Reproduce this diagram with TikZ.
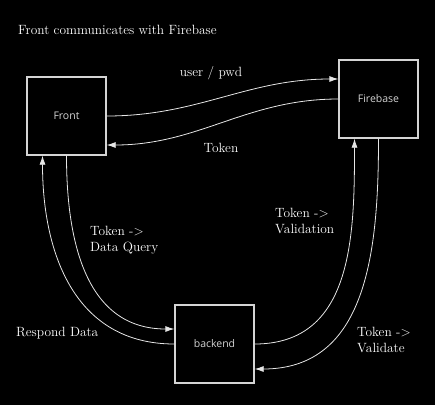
\documentclass[tikz,border=0pt]{standalone}
\usepackage{fontspec}
\newfontfamily\boxfont{Open Sans}
\usetikzlibrary{arrows.meta}
\definecolor{linegray}{HTML}{E6E6E6}
\definecolor{boxgray}{HTML}{D4D4D4}

\tikzset{
  block/.style={draw=boxgray, line width=1.3pt, fill=black, minimum width=79pt,
    minimum height=78pt, text=boxgray, font=\boxfont\fontsize{10.5}{12}\selectfont},
  flow/.style={draw=linegray, line width=0.8pt, -{Latex[length=9pt,width=6pt]}},
  note/.style={text=white, inner sep=0pt, font=\fontsize{13.4}{16}\selectfont, align=left},
}

\begin{document}
\begin{tikzpicture}[x=1pt,y=1pt]
    \fill[black] (0,0) rectangle (435,-405);

    \node[block] (front) at (66.5,-116) {Front};
    \node[block] (firebase) at (378.5,-99) {Firebase};
    \node[block] (backend) at (214.5,-344) {backend};

    % front <-> firebase
    \draw[flow] (front.east) to[out=0,in=180] ([yshift=20pt]firebase.west);
    \draw[flow] (firebase.west) to[out=180,in=0] ([yshift=-29pt]front.east);

    % front <-> backend
    \draw[flow] (front.south) to[out=-90,in=180,looseness=1.1] ([yshift=15pt]backend.west);
    \draw[flow] (backend.west) to[out=180,in=-90,looseness=1.1] ([xshift=-24pt]front.south);

    % backend <-> firebase
    \draw[flow] (backend.east) to[out=0,in=-90,looseness=1.1] ([xshift=-24pt]firebase.south);
    \draw[flow] (firebase.south) to[out=-90,in=0,looseness=1.1] ([yshift=-25pt]backend.east);

    \node[note, anchor=west] (title) at (18,-30) {Front communicates with Firebase};
    \node[note] (userpwd) at (211,-73) {user / pwd};
    \node[note] (token) at (221,-148) {Token};
    \node[note, anchor=west] (query) at (90,-240) {Token ->\\Data Query};
    \node[note, anchor=west] (validation) at (275,-221) {Token ->\\Validation};
    \node[note, anchor=west] (respond) at (16,-333) {Respond Data};
    \node[note, anchor=west] (validate) at (357,-340) {Token ->\\Validate};
\end{tikzpicture}
\end{document}
